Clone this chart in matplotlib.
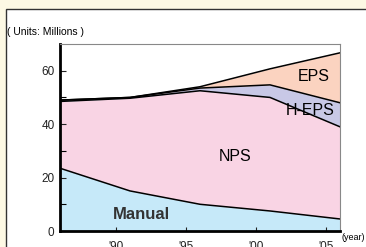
import matplotlib
matplotlib.use("Agg")
import matplotlib.pyplot as plt
from matplotlib.patches import Rectangle

years = [1986, 1991, 1996, 2001, 2006]
manual = [23.5, 15.0, 10.0, 7.5, 4.5]
nps = [25.0, 34.7, 42.5, 42.5, 34.5]
h_eps = [0.5, 0.3, 1.0, 4.7, 9.0]
eps = [0.0, 0.0, 0.5, 6.0, 18.7]

layer_names = ["Manual", "NPS", "H-EPS", "EPS"]
layer_colors = ["#c6e9f9", "#f9d4e4", "#c8c8e6", "#fbd3c0"]
xtick_pos = [1990, 1995, 2000, 2005]
xtick_labels = ["'90", "'95", "'00", "'05"]

plt.rcParams['font.family'] = ['Liberation Sans', 'DejaVu Sans']

fig = plt.figure(figsize=(3.66, 2.47), dpi=100)
fig.patch.set_facecolor("#fdf9e4")
panel = Rectangle((6 / 366, -0.1), 1.0, (247 - 9) / 247 + 0.1,
                  transform=fig.transFigure, facecolor="white",
                  edgecolor="#333333", linewidth=1.0, zorder=-5)
fig.patches.append(panel)

ax = fig.add_axes([60 / 366, 16 / 247, 280 / 366, 187 / 247])
ax.set_zorder(2)

layers = [manual, nps, h_eps, eps]
base = [0.0] * len(years)
for vals, col in zip(layers, layer_colors):
    top = [b + v for b, v in zip(base, vals)]
    ax.fill_between(years, base, top, color=col, linewidth=0)
    ax.plot(years, top, color="black", linewidth=1.1)
    base = top

ax.set_xlim(1986, 2006)
ax.set_ylim(0, 70)
ax.set_xticks(xtick_pos)
ax.set_xticklabels(xtick_labels)
ax.set_yticks([0, 20, 40, 60])
ax.set_yticks([10, 30, 50], minor=True)
ax.tick_params(axis='both', direction='in', labelsize=8.5, colors="#222222")
ax.tick_params(axis='y', length=4, width=0.8, pad=4)
ax.tick_params(axis='y', which='minor', length=4, width=0.8, direction='in')
ax.tick_params(axis='x', length=3, width=0.8, pad=7)

for side in ("left", "bottom"):
    ax.spines[side].set_linewidth(2.0)
    ax.spines[side].set_color("black")
for side in ("top", "right"):
    ax.spines[side].set_linewidth(0.8)
    ax.spines[side].set_color("#888888")

ax.text(1991.8, 6, "Manual", fontsize=12, fontweight='bold', color="#333333",
        ha='center', va='center')
ax.text(1998.5, 28, "NPS", fontsize=11.5, ha='center', va='center')
ax.text(2004.1, 58, "EPS", fontsize=11.5, ha='center', va='center')
ax.text(2003.9, 45, "H-EPS", fontsize=11.5, ha='center', va='center')

fig.text(7 / 366, 1 - 32 / 247, "( Units: Millions )", fontsize=7.5,
         ha='left', va='center')
fig.text(342 / 366, 1 - 237 / 247, "(year)", fontsize=6.5,
         ha='left', va='center')

fig.savefig("out.png", dpi=100, facecolor=fig.get_facecolor())
